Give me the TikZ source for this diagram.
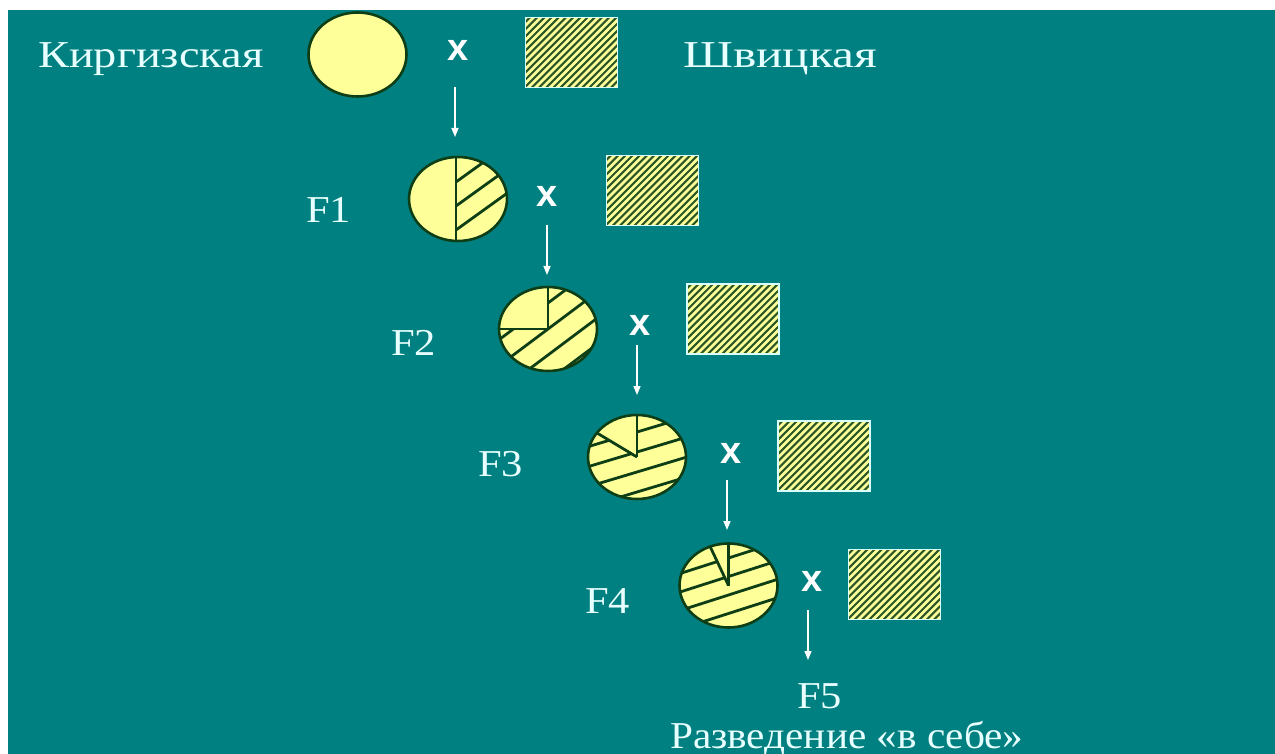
\documentclass[tikz,border=0pt]{standalone}
\usepackage{fontspec}
\setmainfont{Liberation Serif}
\newfontfamily\xsans{Liberation Sans}
\usetikzlibrary{arrows.meta,shapes.geometric,calc}
\definecolor{bg}{RGB}{0,128,128}
\definecolor{yel}{RGB}{255,255,153}
\definecolor{dkg}{RGB}{14,62,22}
\definecolor{stripe}{RGB}{44,86,38}
\definecolor{txt}{RGB}{232,255,255}
\definecolor{rectedge}{RGB}{215,255,255}
\begin{document}
\begin{tikzpicture}[x=1pt,y=-1pt,
  lbl/.style={text=txt,inner sep=0pt,anchor=base west,font=\fontsize{38}{40}\selectfont},
  cross/.style={text=white,inner sep=0pt,font=\xsans\bfseries\fontsize{38}{40}\selectfont},
  arr/.style={draw=white,line width=1.5pt,-{Triangle[length=9pt,width=7pt]}},
  hl/.style={draw=dkg,line width=2.8pt},
  egg/.style={ellipse,draw=dkg,line width=2.6pt,fill=yel,minimum width=98pt,minimum height=84pt,inner sep=0pt},
  hrect/.style={draw=rectedge,line width=1.3pt,fill=yel,minimum width=92pt,minimum height=70pt,inner sep=0pt,
    path picture={\foreach \k in {0,...,24}{\draw[draw=stripe,line width=2.1pt]
      ($(path picture bounding box.south west)+(\k*7.2-80,0)$) -- ++(95,-95);}}}
  ]
\useasboundingbox (0,0) rectangle (1275,754);
\fill[white] (0,0) rectangle (1275,754);
\fill[bg] (8,10) rectangle (1275,754);

% texts
\node[lbl] (kirg) at (38,68) {\scalebox{1.22}[1]{Киргизская}};
\node[lbl] (shv) at (683,68) {\scalebox{1.3}[1]{Швицкая}};
\node[lbl] (f1) at (306,223) {\scalebox{1.12}[1]{F1}};
\node[lbl] (f2) at (391,355) {\scalebox{1.12}[1]{F2}};
\node[lbl] (f3) at (478,476) {\scalebox{1.12}[1]{F3}};
\node[lbl] (f4) at (585,613) {\scalebox{1.12}[1]{F4}};
\node[lbl] (f5) at (797,708) {\scalebox{1.12}[1]{F5}};
\node[lbl] (razv) at (670,748) {\scalebox{1.085}[1]{Разведение «в себе»}};

% parents
\node[egg] (c0) at (357.5,54.5) {};
\node[hrect] (r1) at (571.5,52.5) {};
\node[hrect] (r2) at (652.5,190.5) {};
\node[hrect] (r3) at (733,319) {};
\node[hrect] (r4) at (824,456) {};
\node[hrect] (r5) at (894.5,584.5) {};

% F1 : half
\node[egg,path picture={
  \coordinate (o) at (path picture bounding box.center);
  \foreach \off in {-17,7,31}{\draw[hl] ($(o)+(-2,\off)$) -- ++(70,-50.4);}
  \draw[hl] ($(o)+(-2,-50)$) -- ++(0,100);
}] (c1) at (458,199) {};

% F2 : three quarters
\node[egg,path picture={
  \coordinate (o) at (path picture bounding box.center);
  \begin{scope}
    \clip (o) -- ++(0,-60) -- ++(60,0) -- ++(0,120) -- ++(-120,0) -- ++(0,-60) -- cycle;
    \foreach \off in {-52,-26,0,26,52,78}{\draw[hl] ($(o)+(-60,\off+45)$) -- ++(120,-90);}
  \end{scope}
  \draw[hl] (o) -- ++(0,-50);
  \draw[hl] (o) -- ++(-55,0);
}] (c2) at (548,329) {};

% F3 : seven eighths
\node[egg,path picture={
  \coordinate (o) at (path picture bounding box.center);
  \begin{scope}[even odd rule]
    \clip ($(o)+(-80,-80)$) rectangle ++(160,160)
       (o) -- ++(0,-60) -- ++(-60,0) -- ++(0,24) -- cycle;
    \foreach \off in {-45,-25,-5,15,35}{\draw[hl] ($(o)+(-60,\off+18)$) -- ++(120,-36);}
  \end{scope}
  \draw[hl] (o) -- ++(0,-45);
  \draw[hl] (o) -- ++(-42,-25.2);
}] (c3) at (637,457) {};

% F4 : fifteen sixteenths
\node[egg,path picture={
  \coordinate (o) at (path picture bounding box.center);
  \begin{scope}[even odd rule]
    \clip ($(o)+(-80,-80)$) rectangle ++(160,160)
       (o) -- ++(0,-65.5) -- ++(-31,0) -- cycle;
    \foreach \off in {-46,-27.5,-9,9.5,28}{\draw[hl] ($(o)+(-60,\off+19.2)$) -- ++(120,-38.4);}
  \end{scope}
  \draw[hl] (o) -- ++(0,-45);
  \draw[hl] (o) -- ++(-19.5,-41.3);
}] (c4) at (728.5,585.5) {};

% crosses
\node[cross] (x1) at (458,50) {x};
\node[cross] (x2) at (547,196) {x};
\node[cross] (x3) at (640,325) {x};
\node[cross] (x4) at (731,453) {x};
\node[cross] (x5) at (812,581) {x};

% arrows
\coordinate (a1s) at (455,87);  \coordinate (a1e) at (455,137);
\coordinate (a2s) at (547,225); \coordinate (a2e) at (547,275);
\coordinate (a3s) at (637,345); \coordinate (a3e) at (637,395);
\coordinate (a4s) at (727,480); \coordinate (a4e) at (727,530);
\coordinate (a5s) at (808,610); \coordinate (a5e) at (808,660);
\draw[arr] (a1s) -- (a1e);
\draw[arr] (a2s) -- (a2e);
\draw[arr] (a3s) -- (a3e);
\draw[arr] (a4s) -- (a4e);
\draw[arr] (a5s) -- (a5e);
\end{tikzpicture}
\end{document}
